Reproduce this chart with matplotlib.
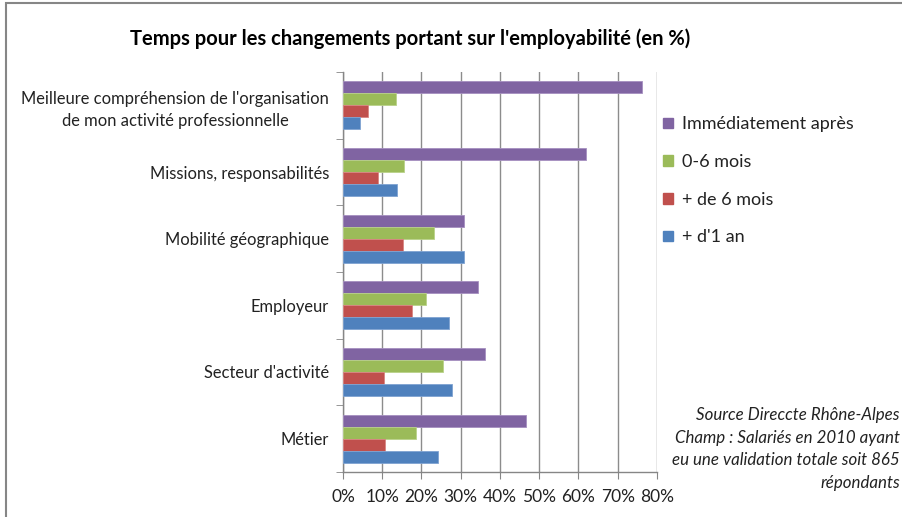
import matplotlib
matplotlib.use("Agg")
import matplotlib.pyplot as plt
from matplotlib.patches import Patch, Rectangle
import numpy as np

plt.rcParams['font.family'] = ['Lato', 'DejaVu Sans']

categories = [
    "Meilleure compréhension de l'organisation\nde mon activité professionnelle",
    "Missions, responsabilités",
    "Mobilité géographique",
    "Employeur",
    "Secteur d'activité",
    "Métier",
]
series_names = ["Immédiatement après", "0-6 mois", "+ de 6 mois", "+ d'1 an"]
immediat = [76.1, 62.0, 30.8, 34.4, 36.3, 46.5]
mois_0_6 = [13.4, 15.6, 23.2, 21.1, 25.6, 18.7]
plus_6_mois = [6.3, 8.9, 15.3, 17.7, 10.5, 10.8]
plus_1_an = [4.3, 13.7, 30.8, 26.9, 27.7, 24.1]
series_values = [immediat, mois_0_6, plus_6_mois, plus_1_an]
colors = ["#8064A2", "#9BBB59", "#C0504D", "#4F81BD"]
edge_colors = ["#A58FC0", "#B9D28A", "#D98683", "#7FA3D2"]
xticks = [0, 10, 20, 30, 40, 50, 60, 70, 80]
xtick_labels = ["0%", "10%", "20%", "30%", "40%", "50%", "60%", "70%", "80%"]
title = "Temps pour les changements portant sur l'employabilité (en %)"
source = "Source Direccte Rhône-Alpes\nChamp : Salariés en 2010 ayant\neu une validation totale soit 865\nrépondants"

W, H = 903, 517
fig = plt.figure(figsize=(W / 100, H / 100), dpi=100)
fig.patch.set_facecolor("white")

# chart frame
fig.add_artist(Rectangle((6 / W, -0.05), 1.2, (H - 3) / H + 0.05, transform=fig.transFigure,
                         fill=False, edgecolor="#868686", linewidth=1.5))

ax = fig.add_axes([343 / W, 1 - 472 / H, (657 - 343) / W, (472 - 72) / H])

h = 0.18
y = np.arange(len(categories))
offsets = [-1.5 * h, -0.5 * h, 0.5 * h, 1.5 * h]
for vals, off, c, ec, name in zip(series_values, offsets, colors, edge_colors, series_names):
    ax.barh(y + off, vals, height=h, color=c, edgecolor=ec, linewidth=0.6, label=name, zorder=3)

ax.set_xlim(0, 80)
ax.set_ylim(len(categories) - 0.5, -0.5)
ax.set_xticks(xticks)
ax.set_xticklabels(xtick_labels, fontsize=12.5, color="#222222")
ax.set_yticks(y)
ax.set_yticklabels(categories, fontsize=11.9, color="#222222")
for lab in ax.get_yticklabels():
    lab.set_multialignment("center")
    lab.set_linespacing(1.45)
ax.set_yticks(np.arange(-0.5, len(categories), 1), minor=True)
ax.tick_params(axis="y", which="major", length=0, pad=10)
ax.tick_params(axis="y", which="minor", length=5, color="#868686", direction="out")
ax.tick_params(axis="x", which="major", length=5, color="#868686", direction="out", pad=7)
ax.grid(axis="x", color="#8c8c8c", linewidth=1, zorder=0)
ax.set_axisbelow(True)
for s in ["top", "right"]:
    ax.spines[s].set_visible(False)
for s in ["left", "bottom"]:
    ax.spines[s].set_color("#868686")
    ax.spines[s].set_linewidth(1)

fig.text(410 / W, 1 - 39 / H, title, ha="center", va="center", fontsize=14.5, fontweight="bold",
         color="black")

handles = [Patch(facecolor=c, edgecolor=c) for c in colors]
fig.legend(handles, series_names, loc="upper left", bbox_to_anchor=(658 / W, 1 - 111 / H),
           frameon=False, fontsize=13, handlelength=0.55, handleheight=0.55, handletextpad=0.5,
           labelspacing=1.2, borderaxespad=0, borderpad=0.3, labelcolor="#222222")

fig.text(900 / W, 1 - 449 / H, source, ha="right", va="center", fontsize=12.2, style="italic",
         color="#222222", linespacing=1.5)

fig.savefig("out.png", dpi=100)
